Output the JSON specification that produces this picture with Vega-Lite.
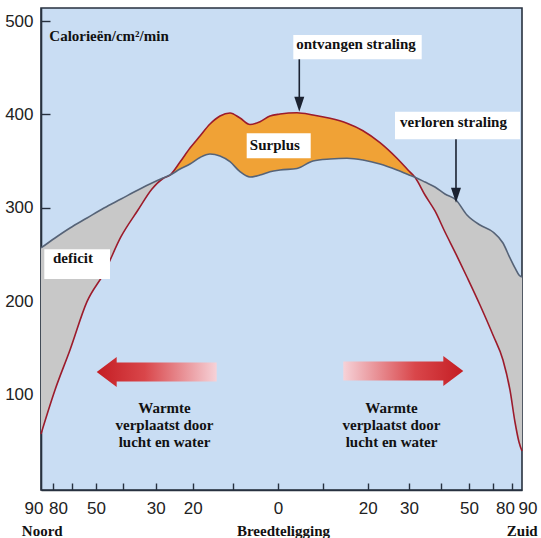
{
  "$schema": "https://vega.github.io/schema/vega-lite/v6.json",
  "width": 481,
  "height": 482,
  "autosize": {"type": "none"},
  "padding": {"left": 41, "top": 8, "right": 19, "bottom": 48},
  "background": "#ffffff",
  "view": {"fill": "#c9ddf3", "stroke": "#27313f", "strokeWidth": 1.6},
  "datasets": {
    "profile": [
      {"u": -0.971, "recv": 58.0, "lost": 257.1},
      {"u": -0.9136, "recv": 105.1, "lost": 267.8},
      {"u": -0.8522, "recv": 147.9, "lost": 278.5},
      {"u": -0.7825, "recv": 199.6, "lost": 289.2},
      {"u": -0.7128, "recv": 230.3, "lost": 299.9},
      {"u": -0.6432, "recv": 269.2, "lost": 309.5},
      {"u": -0.5735, "recv": 297.7, "lost": 319.2},
      {"u": -0.5162, "recv": 320.2, "lost": 326.7},
      {"u": -0.4711, "recv": 331.5, "lost": 332.0},
      {"u": -0.4423, "recv": 335.2, "lost": 335.2},
      {"u": -0.4013, "recv": 349.1, "lost": 341.6},
      {"u": -0.3604, "recv": 364.1, "lost": 347.0},
      {"u": -0.3195, "recv": 377.0, "lost": 354.0},
      {"u": -0.2785, "recv": 389.8, "lost": 357.7},
      {"u": -0.2375, "recv": 398.4, "lost": 355.6},
      {"u": -0.1965, "recv": 401.6, "lost": 349.5},
      {"u": -0.1556, "recv": 396.2, "lost": 338.8},
      {"u": -0.1146, "recv": 389.3, "lost": 333.1},
      {"u": -0.0736, "recv": 392.3, "lost": 335.2},
      {"u": -0.0326, "recv": 398.4, "lost": 338.8},
      {"u": 0.0083, "recv": 400.5, "lost": 340.6},
      {"u": 0.0779, "recv": 401.9, "lost": 342.2},
      {"u": 0.1435, "recv": 399.5, "lost": 350.2},
      {"u": 0.2131, "recv": 395.9, "lost": 352.3},
      {"u": 0.2828, "recv": 390.6, "lost": 353.1},
      {"u": 0.3484, "recv": 382.6, "lost": 351.3},
      {"u": 0.418, "recv": 369.8, "lost": 347.0},
      {"u": 0.4877, "recv": 353.1, "lost": 340.6},
      {"u": 0.5328, "recv": 340.6, "lost": 335.8},
      {"u": 0.5615, "recv": 332.8, "lost": 332.8},
      {"u": 0.6025, "recv": 313.8, "lost": 327.7},
      {"u": 0.6434, "recv": 296.7, "lost": 322.4},
      {"u": 0.6844, "recv": 274.2, "lost": 314.9},
      {"u": 0.7295, "recv": 250.6, "lost": 308.5},
      {"u": 0.7745, "recv": 226.0, "lost": 292.4},
      {"u": 0.8278, "recv": 196.0, "lost": 281.7},
      {"u": 0.8811, "recv": 163.9, "lost": 274.2},
      {"u": 0.922, "recv": 137.2, "lost": 262.4},
      {"u": 0.9507, "recv": 105.1, "lost": 246.4},
      {"u": 0.9712, "recv": 70.8, "lost": 235.7},
      {"u": 0.9876, "recv": 49.4, "lost": 228.2},
      {"u": 1.0, "recv": 39.7, "lost": 226.0}
    ],
    "zones": [
      {"u": -0.971, "recv": 58.0, "lost": 257.1, "zone": "N"},
      {"u": -0.9136, "recv": 105.1, "lost": 267.8, "zone": "N"},
      {"u": -0.8522, "recv": 147.9, "lost": 278.5, "zone": "N"},
      {"u": -0.7825, "recv": 199.6, "lost": 289.2, "zone": "N"},
      {"u": -0.7128, "recv": 230.3, "lost": 299.9, "zone": "N"},
      {"u": -0.6432, "recv": 269.2, "lost": 309.5, "zone": "N"},
      {"u": -0.5735, "recv": 297.7, "lost": 319.2, "zone": "N"},
      {"u": -0.5162, "recv": 320.2, "lost": 326.7, "zone": "N"},
      {"u": -0.4711, "recv": 331.5, "lost": 332.0, "zone": "N"},
      {"u": -0.4423, "recv": 335.2, "lost": 335.2, "zone": "N"},
      {"u": -0.4423, "recv": 335.2, "lost": 335.2, "zone": "S"},
      {"u": -0.4013, "recv": 349.1, "lost": 341.6, "zone": "S"},
      {"u": -0.3604, "recv": 364.1, "lost": 347.0, "zone": "S"},
      {"u": -0.3195, "recv": 377.0, "lost": 354.0, "zone": "S"},
      {"u": -0.2785, "recv": 389.8, "lost": 357.7, "zone": "S"},
      {"u": -0.2375, "recv": 398.4, "lost": 355.6, "zone": "S"},
      {"u": -0.1965, "recv": 401.6, "lost": 349.5, "zone": "S"},
      {"u": -0.1556, "recv": 396.2, "lost": 338.8, "zone": "S"},
      {"u": -0.1146, "recv": 389.3, "lost": 333.1, "zone": "S"},
      {"u": -0.0736, "recv": 392.3, "lost": 335.2, "zone": "S"},
      {"u": -0.0326, "recv": 398.4, "lost": 338.8, "zone": "S"},
      {"u": 0.0083, "recv": 400.5, "lost": 340.6, "zone": "S"},
      {"u": 0.0779, "recv": 401.9, "lost": 342.2, "zone": "S"},
      {"u": 0.1435, "recv": 399.5, "lost": 350.2, "zone": "S"},
      {"u": 0.2131, "recv": 395.9, "lost": 352.3, "zone": "S"},
      {"u": 0.2828, "recv": 390.6, "lost": 353.1, "zone": "S"},
      {"u": 0.3484, "recv": 382.6, "lost": 351.3, "zone": "S"},
      {"u": 0.418, "recv": 369.8, "lost": 347.0, "zone": "S"},
      {"u": 0.4877, "recv": 353.1, "lost": 340.6, "zone": "S"},
      {"u": 0.5328, "recv": 340.6, "lost": 335.8, "zone": "S"},
      {"u": 0.5615, "recv": 332.8, "lost": 332.8, "zone": "S"},
      {"u": 0.5615, "recv": 332.8, "lost": 332.8, "zone": "D"},
      {"u": 0.6025, "recv": 313.8, "lost": 327.7, "zone": "D"},
      {"u": 0.6434, "recv": 296.7, "lost": 322.4, "zone": "D"},
      {"u": 0.6844, "recv": 274.2, "lost": 314.9, "zone": "D"},
      {"u": 0.7295, "recv": 250.6, "lost": 308.5, "zone": "D"},
      {"u": 0.7745, "recv": 226.0, "lost": 292.4, "zone": "D"},
      {"u": 0.8278, "recv": 196.0, "lost": 281.7, "zone": "D"},
      {"u": 0.8811, "recv": 163.9, "lost": 274.2, "zone": "D"},
      {"u": 0.922, "recv": 137.2, "lost": 262.4, "zone": "D"},
      {"u": 0.9507, "recv": 105.1, "lost": 246.4, "zone": "D"},
      {"u": 0.9712, "recv": 70.8, "lost": 235.7, "zone": "D"},
      {"u": 0.9876, "recv": 49.4, "lost": 228.2, "zone": "D"},
      {"u": 1.0, "recv": 39.7, "lost": 226.0, "zone": "D"}
    ],
    "boxes": [
      {"u1": 0.0629, "u2": 0.589, "v1": 459.1, "v2": 485.1},
      {"u1": 0.4796, "u2": 0.9918, "v1": 373.4, "v2": 403.0},
      {"u1": -0.1281, "u2": 0.1342, "v1": 353.1, "v2": 379.9},
      {"u1": -0.9575, "u2": -0.6883, "v1": 223.9, "v2": 255.7}
    ],
    "labels": [
      {"u": 0.3198, "v": 469.8, "text": "ontvangen straling"},
      {"u": 0.7193, "v": 386.9, "text": "verloren straling"},
      {"u": -0.0126, "v": 362.0, "text": "Surplus"},
      {"u": -0.8399, "v": 240.7, "text": "deficit"}
    ],
    "unit": [{"u": -0.937, "v": 479.0, "text": "Calorieën/cm²/min"}],
    "notes": [
      {"u": -0.4649, "v": 80.7, "text": "Warmte\nverplaatst door\nlucht en water"},
      {"u": 0.4652, "v": 80.7, "text": "Warmte\nverplaatst door\nlucht en water"}
    ],
    "pointers": [
      {"u": 0.0874, "top": 459.1, "bottom": 415.5, "head": 411.0},
      {"u": 0.7295, "top": 373.4, "bottom": 317.0, "head": 313.6}
    ],
    "heat": [
      {"u": -0.4969, "v": 124.3, "dir": "west"},
      {"u": 0.5136, "v": 125.4, "dir": "east"}
    ]
  },
  "resolve": {"axis": {"x": "independent", "y": "independent"}},
  "layer": [
    {
      "data": {"name": "zones"},
      "mark": {"type": "area", "interpolate": "monotone", "opacity": 1},
      "encoding": {
        "x": {"field": "u", "type": "quantitative", "scale": {"domain": [-0.971, 1.0], "nice": false, "zero": false}, "axis": null},
        "y": {"field": "recv", "type": "quantitative", "scale": {"domain": [-2, 514], "nice": false, "zero": false}, "axis": null},
        "y2": {"field": "lost"},
        "color": {"field": "zone", "type": "nominal", "scale": {"domain": ["N", "S", "D"], "range": ["#c8c8c8", "#f0a236", "#c8c8c8"]}, "legend": null}
      }
    },
    {
      "data": {"name": "profile"},
      "mark": {"type": "line", "interpolate": "monotone", "color": "#9c1b2b", "strokeWidth": 1.6},
      "encoding": {
        "x": {"field": "u", "type": "quantitative", "scale": {"domain": [-0.971, 1.0], "nice": false, "zero": false},
          "axis": {"orient": "bottom", "values": [-0.9628, -0.9016, -0.746, -0.501, -0.3496, 0, 0.3676, 0.537, 0.7828, 0.93, 0.9836],
            "labelExpr": "(datum.value < -0.96 || datum.value > 0.975) ? '90' : ((datum.value < -0.85 || datum.value > 0.9) ? '80' : ((datum.value < -0.7 || datum.value > 0.7) ? '50' : ((datum.value < -0.45 || datum.value > 0.45) ? '30' : ((datum.value < -0.3 || datum.value > 0.3) ? '20' : '0'))))",
            "labelAlign": {"condition": [{"test": "datum.value < -0.96", "value": "right"}, {"test": "datum.value > 0.975", "value": "left"}], "value": "center"},
            "ticks": false, "domain": false, "grid": false, "labelPadding": 10.6, "labelFont": "Liberation Sans", "labelFontSize": 17, "labelColor": "#222222",
            "labelFlush": false, "labelOverlap": false, "title": null}},
        "y": {"field": "recv", "type": "quantitative", "scale": {"domain": [-2, 514], "nice": false, "zero": false},
          "axis": {"orient": "left", "values": [100, 200, 300, 400, 500], "ticks": true, "tickSize": -9, "tickColor": "#27313f", "tickWidth": 1.4, "domain": true, "domainColor": "#27313f", "domainWidth": 1.6,
            "labelPadding": 17, "labelFont": "Liberation Sans", "labelFontSize": 17, "labelColor": "#222222", "labelFlush": false, "labelOverlap": false, "grid": false, "title": null}}
      }
    },
    {
      "data": {"name": "profile"},
      "mark": {"type": "line", "interpolate": "monotone", "color": "#566377", "strokeWidth": 1.6},
      "encoding": {
        "x": {"field": "u", "type": "quantitative", "scale": {"domain": [-0.971, 1.0], "nice": false, "zero": false},
          "axis": {"orient": "bottom", "values": [-0.968, 0.0206, 0.999],
            "labelExpr": "datum.value < -0.5 ? 'Noord' : (datum.value > 0.5 ? 'Zuid' : 'Breedteligging')",
            "ticks": false, "domain": false, "grid": false, "labelPadding": 33, "labelFont": "Liberation Serif", "labelFontWeight": "bold", "labelFontSize": 15, "labelColor": "#111111",
            "labelFlush": false, "labelOverlap": false, "title": null}},
        "y": {"field": "lost", "type": "quantitative", "scale": {"domain": [-2, 514], "nice": false, "zero": false}, "axis": null}
      }
    },
    {
      "data": {"name": "heat"},
      "transform": [{"filter": "datum.dir == 'west'"}],
      "mark": {"type": "point", "shape": "M-1,0L-0.667,-0.25L-0.667,-0.158L1,-0.158L1,0.158L-0.667,0.158L-0.667,0.25Z", "size": 14400, "filled": true, "opacity": 1, "strokeWidth": 0,
        "fill": {"gradient": "linear", "x1": 0, "y1": 0, "x2": 1, "y2": 0, "stops": [{"offset": 0, "color": "#c41d23"}, {"offset": 0.4, "color": "#d9464a"}, {"offset": 1, "color": "#f6d2d8"}]}},
      "encoding": {
        "x": {"field": "u", "type": "quantitative", "scale": {"domain": [-0.971, 1.0], "nice": false, "zero": false},
          "axis": {"orient": "bottom", "values": [-0.921, -0.8455, -0.746, -0.634, -0.501, -0.3496, -0.183, 0, 0.1857, 0.3676, 0.537, 0.668, 0.7828, 0.8824, 0.9578],
            "labels": false, "ticks": true, "tickSize": -7, "tickColor": "#27313f", "tickWidth": 1.4, "domain": true, "domainColor": "#27313f", "domainWidth": 1.6, "grid": false, "title": null}},
        "y": {"field": "v", "type": "quantitative", "scale": {"domain": [-2, 514], "nice": false, "zero": false}, "axis": null}
      }
    },
    {
      "data": {"name": "heat"},
      "transform": [{"filter": "datum.dir == 'east'"}],
      "mark": {"type": "point", "angle": 180, "shape": "M-1,0L-0.667,-0.25L-0.667,-0.158L1,-0.158L1,0.158L-0.667,0.158L-0.667,0.25Z", "size": 14400, "filled": true, "opacity": 1, "strokeWidth": 0,
        "fill": {"gradient": "linear", "x1": 0, "y1": 0, "x2": 1, "y2": 0, "stops": [{"offset": 0, "color": "#c41d23"}, {"offset": 0.4, "color": "#d9464a"}, {"offset": 1, "color": "#f6d2d8"}]}},
      "encoding": {
        "x": {"field": "u", "type": "quantitative", "scale": {"domain": [-0.971, 1.0], "nice": false, "zero": false}, "axis": null},
        "y": {"field": "v", "type": "quantitative", "scale": {"domain": [-2, 514], "nice": false, "zero": false}, "axis": null}
      }
    },
    {
      "data": {"name": "boxes"},
      "mark": {"type": "rect", "color": "#ffffff", "opacity": 1},
      "encoding": {
        "x": {"field": "u1", "type": "quantitative", "scale": {"domain": [-0.971, 1.0], "nice": false, "zero": false}, "axis": null},
        "x2": {"field": "u2"},
        "y": {"field": "v1", "type": "quantitative", "scale": {"domain": [-2, 514], "nice": false, "zero": false}, "axis": null},
        "y2": {"field": "v2"}
      }
    },
    {
      "data": {"name": "labels"},
      "mark": {"type": "text", "font": "Liberation Serif", "fontWeight": "bold", "fontSize": 15, "color": "#111111", "align": "center", "baseline": "alphabetic"},
      "encoding": {
        "x": {"field": "u", "type": "quantitative", "scale": {"domain": [-0.971, 1.0], "nice": false, "zero": false}, "axis": null},
        "y": {"field": "v", "type": "quantitative", "scale": {"domain": [-2, 514], "nice": false, "zero": false}, "axis": null},
        "text": {"field": "text"}
      }
    },
    {
      "data": {"name": "unit"},
      "mark": {"type": "text", "font": "Liberation Serif", "fontWeight": "bold", "fontSize": 15, "color": "#111111", "align": "left", "baseline": "alphabetic"},
      "encoding": {
        "x": {"field": "u", "type": "quantitative", "scale": {"domain": [-0.971, 1.0], "nice": false, "zero": false}, "axis": null},
        "y": {"field": "v", "type": "quantitative", "scale": {"domain": [-2, 514], "nice": false, "zero": false}, "axis": null},
        "text": {"field": "text"}
      }
    },
    {
      "data": {"name": "notes"},
      "mark": {"type": "text", "font": "Liberation Serif", "fontWeight": "bold", "fontSize": 15, "color": "#111111", "align": "center", "baseline": "alphabetic", "lineBreak": "\n", "lineHeight": 17},
      "encoding": {
        "x": {"field": "u", "type": "quantitative", "scale": {"domain": [-0.971, 1.0], "nice": false, "zero": false}, "axis": null},
        "y": {"field": "v", "type": "quantitative", "scale": {"domain": [-2, 514], "nice": false, "zero": false}, "axis": null},
        "text": {"field": "text"}
      }
    },
    {
      "data": {"name": "pointers"},
      "mark": {"type": "rule", "color": "#1b2231", "strokeWidth": 1.6},
      "encoding": {
        "x": {"field": "u", "type": "quantitative", "scale": {"domain": [-0.971, 1.0], "nice": false, "zero": false}, "axis": null},
        "y": {"field": "top", "type": "quantitative", "scale": {"domain": [-2, 514], "nice": false, "zero": false}, "axis": null},
        "y2": {"field": "bottom"}
      }
    },
    {
      "data": {"name": "pointers"},
      "mark": {"type": "point", "shape": "M-0.667,-1L0.667,-1L0,1Z", "size": 225, "filled": true, "opacity": 1, "color": "#1b2231"},
      "encoding": {
        "x": {"field": "u", "type": "quantitative", "scale": {"domain": [-0.971, 1.0], "nice": false, "zero": false}, "axis": null},
        "y": {"field": "head", "type": "quantitative", "scale": {"domain": [-2, 514], "nice": false, "zero": false}, "axis": null}
      }
    }
  ]
}
